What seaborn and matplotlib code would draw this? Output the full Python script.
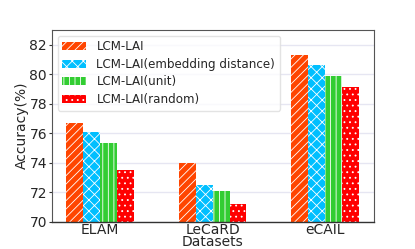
import matplotlib
matplotlib.use("Agg")
import matplotlib.pyplot as plt
import seaborn as sns
import pandas as pd

datasets = ["ELAM", "LeCaRD", "eCAIL"]
methods = ["LCM-LAI", "LCM-LAI(embedding distance)", "LCM-LAI(unit)", "LCM-LAI(random)"]
lcm_lai = [76.7, 73.95, 81.3]
lcm_embed = [76.1, 72.5, 80.6]
lcm_unit = [75.3, 72.1, 79.85]
lcm_random = [73.5, 71.2, 79.15]

colors = ["#FF4500", "#00BFFF", "#32CD32", "#FF0000"]
hatches = ["////", "xxx", "|||", "..."]

rows = []
for m, vals in zip(methods, [lcm_lai, lcm_embed, lcm_unit, lcm_random]):
    for d, v in zip(datasets, vals):
        rows.append({"Datasets": d, "Method": m, "Accuracy": v})
df = pd.DataFrame(rows)

sns.set_theme(style="whitegrid")
plt.rcParams['font.family'] = ['DejaVu Sans']
plt.rcParams['hatch.linewidth'] = 0.6

fig, ax = plt.subplots(figsize=(4.15, 2.49), dpi=100)
fig.subplots_adjust(left=0.125, right=0.9, top=0.88, bottom=0.11)

sns.barplot(data=df, x="Datasets", y="Accuracy", hue="Method", hue_order=methods,
            palette=colors, width=0.6, gap=0.0, ax=ax, saturation=1)

for i, cont in enumerate(ax.containers):
    for p in cont.patches:
        p.set_hatch(hatches[i])
        p.set_facecolor(colors[i])
        p.set_edgecolor("white")
        p.set_linewidth(0.0)

ax.set_ylim(70, 83)
ax.set_xlim(-0.43, 2.43)
ax.set_yticks([70, 72, 74, 76, 78, 80, 82])
ax.set_ylabel("Accuracy(%)", fontsize=10, labelpad=0)
ax.set_xlabel("Datasets", fontsize=10, labelpad=-1.5)
ax.tick_params(axis='both', labelsize=10, pad=1)
ax.tick_params(axis='y', length=2.5, width=0.8, color="#333333", left=True)
ax.tick_params(axis='x', length=0)
ax.grid(axis='y', color='#E6E6F2', linewidth=1)
ax.grid(axis='x', visible=False)
ax.set_axisbelow(True)
ax.set_facecolor('white')
for s in ["top", "right", "left"]:
    ax.spines[s].set_color("#555555")
    ax.spines[s].set_linewidth(0.8)
ax.spines["bottom"].set_color("#333333")
ax.spines["bottom"].set_linewidth(1.0)

leg = ax.legend(loc="upper left", fontsize=8.6, frameon=True, framealpha=0.8,
                edgecolor="#DDDDDD", borderpad=0.4, labelspacing=0.38,
                handlelength=2.0, handleheight=0.7, handletextpad=0.85,
                borderaxespad=0.0, bbox_to_anchor=(0.018, 0.97))
for h, c, hh in zip(leg.legend_handles, colors, hatches):
    h.set_hatch(hh)
    h.set_facecolor(c)
    h.set_edgecolor("white")
    h.set_linewidth(0)

fig.savefig("out.png", dpi=100)
